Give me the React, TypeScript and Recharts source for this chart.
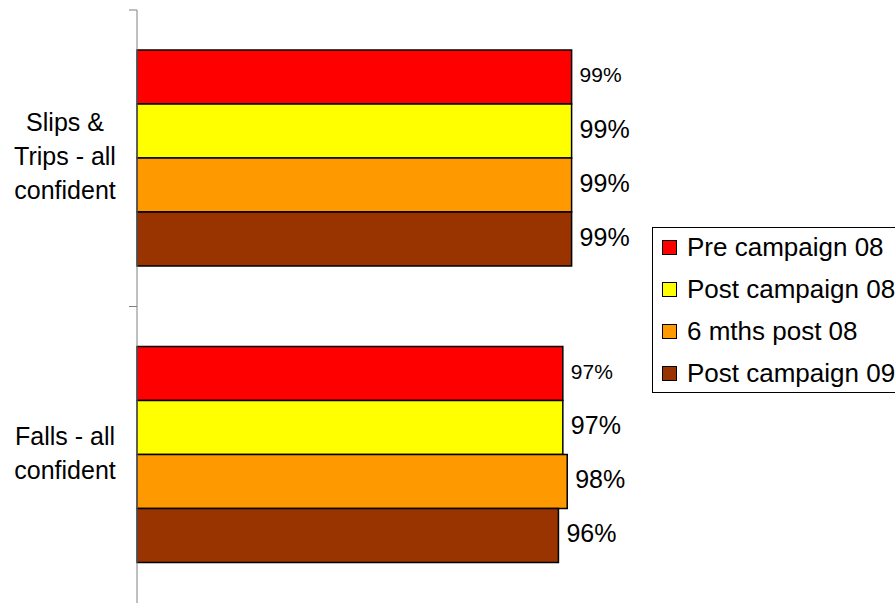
import React from "react";
import { Bar, BarChart, LabelList, Legend, XAxis, YAxis } from "recharts";

const categories = ["Slips & Trips - all confident", "Falls - all confident"];
const categoryLines = [["Slips &", "Trips - all", "confident"], ["Falls - all", "confident"]];

const seriesNames = ["Pre campaign 08", "Post campaign 08", "6 mths post 08", "Post campaign 09"];
const preCampaign08 = [99, 97];
const postCampaign08 = [99, 97];
const sixMonthsPost08 = [99, 98];
const postCampaign09 = [99, 96];

const colors = ["#FF0000", "#FFFF00", "#FF9900", "#993300"];

const data = categories.map((name, i) => ({
  name,
  pre08: preCampaign08[i],
  post08: postCampaign08[i],
  six08: sixMonthsPost08[i],
  post09: postCampaign09[i],
}));

const keys = ["pre08", "post08", "six08", "post09"];

const WIDTH = 895;
const HEIGHT = 603;
const TOP = 10;
const BAND = (HEIGHT - TOP) / categories.length;
const FONT = "'Liberation Sans', Arial, sans-serif";

// category label plus a tick mark on the band boundary above it
function CategoryTick(props: any) {
  const { y, index } = props;
  const lines = categoryLines[index] ?? [];
  const mid = (lines.length - 1) / 2;
  return (
    <g>
      <line x1={129} x2={137} y1={y - BAND / 2} y2={y - BAND / 2} stroke="#808080" strokeWidth={1} />
      <text x={65} textAnchor="middle" fontSize={25} fontFamily={FONT} fill="#000">
        {lines.map((l, i) => (
          <tspan key={i} x={65} y={y + (i - mid) * 34 + 7}>
            {l}
          </tspan>
        ))}
      </text>
    </g>
  );
}

function LegendBox() {
  return (
    <div
      style={{
        border: "1px solid #000",
        width: 260,
        height: 166,
        boxSizing: "border-box",
        fontFamily: FONT,
        fontSize: 26,
        color: "#000",
        background: "#fff",
      }}
    >
      <div style={{ marginTop: -2 }}>
        {seriesNames.map((n, i) => (
          <div key={n} style={{ height: 42, display: "flex", alignItems: "center", whiteSpace: "nowrap" }}>
            <span
              style={{
                display: "inline-block",
                width: 13,
                height: 13,
                marginLeft: 9,
                marginRight: 10,
                background: colors[i],
                border: "1px solid #000",
              }}
            />
            <span>{n}</span>
          </div>
        ))}
      </div>
    </div>
  );
}

export default function App() {
  return (
    <div style={{ position: "absolute", left: 0, top: 0, background: "#fff" }}>
      <BarChart
        width={WIDTH}
        height={HEIGHT}
        data={data}
        layout="vertical"
        margin={{ top: TOP, right: 319, bottom: 0, left: 0 }}
        barGap={0}
        barSize={54}
      >
        <XAxis type="number" domain={[0, 100]} hide />
        <YAxis
          type="category"
          dataKey="name"
          width={137}
          axisLine={{ stroke: "#808080", strokeWidth: 1 }}
          tickLine={false}
          tick={<CategoryTick />}
          interval={0}
        />
        <Legend
          layout="horizontal"
          verticalAlign="middle"
          align="center"
          content={() => <LegendBox />}
          wrapperStyle={{ left: 652, top: 227, width: 260, height: 166 }}
        />
        {keys.map((k, i) => (
          <Bar
            key={k}
            dataKey={k}
            name={seriesNames[i]}
            fill={colors[i]}
            stroke="#000"
            strokeWidth={1.5}
            isAnimationActive={false}
          >
            <LabelList
              dataKey={k}
              position="right"
              offset={8}
              formatter={(v: any) => `${v}%`}
              fill="#000"
              fontSize={i === 0 ? 21 : 25}
              fontFamily={FONT}
              dy={-2}
            />
          </Bar>
        ))}
      </BarChart>
    </div>
  );
}
